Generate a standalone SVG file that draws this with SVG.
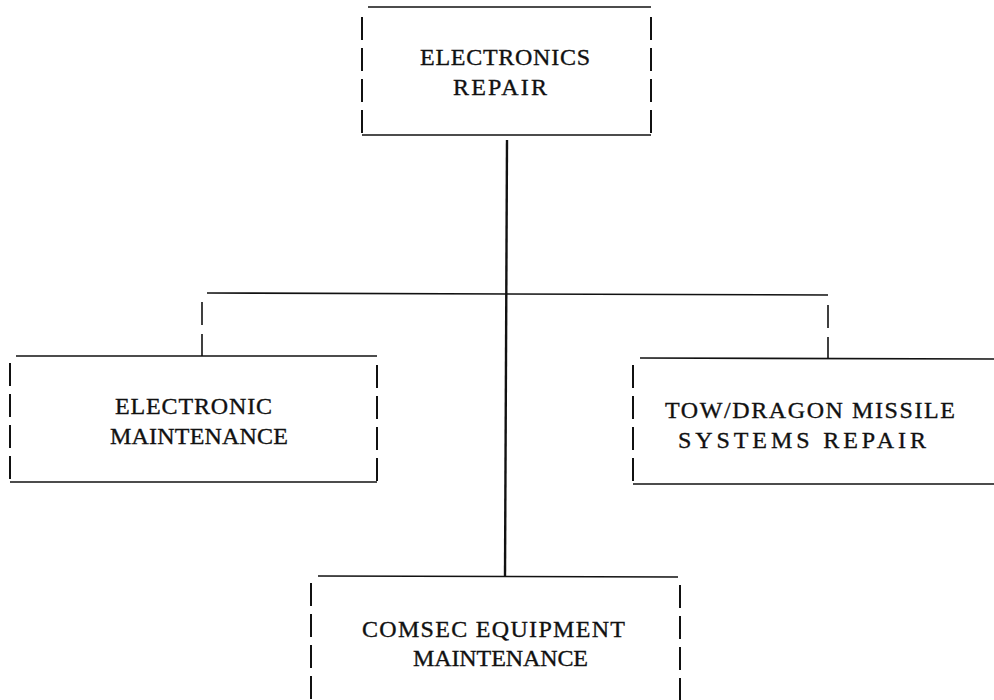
<svg xmlns="http://www.w3.org/2000/svg" width="994" height="700" viewBox="0 0 994 700">
  <style>
    .edge { stroke: #111; stroke-width: 1.6; fill: none; }
    .side { stroke: #111; stroke-width: 2; fill: none; stroke-dasharray: 23 8; }
    .link { stroke: #111; stroke-width: 1.6; fill: none; }
    .trunk { stroke: #111; stroke-width: 2.4; fill: none; }
    .drop { stroke: #111; stroke-width: 1.6; fill: none; stroke-dasharray: 23 9; }
    .lbl { font-family: "Liberation Serif", "Times New Roman", serif; font-size: 24px; fill: #111; stroke: #111; stroke-width: 0.35; }
  </style>
  <rect width="994" height="700" fill="#fff"/>

  <!-- connectors -->
  <g id="connectors">
    <line class="trunk" x1="507" y1="140" x2="505" y2="576"/>
    <line class="link" x1="207" y1="293" x2="828" y2="295"/>
    <line class="drop" x1="202" y1="302" x2="202" y2="356"/>
    <line class="drop" x1="828" y1="305" x2="828" y2="358"/>
  </g>

  <!-- top node -->
  <g id="electronics-repair">
    <line class="edge" x1="368" y1="7" x2="651" y2="7"/>
    <line class="edge" x1="362" y1="135" x2="651" y2="135"/>
    <line class="side" x1="362" y1="17" x2="362" y2="134"/>
    <line class="side" x1="651" y1="17" x2="651" y2="134"/>
    <text class="lbl" x="420" y="65" textLength="170">ELECTRONICS</text>
    <text class="lbl" x="453" y="95" textLength="94">REPAIR</text>
  </g>

  <!-- left node -->
  <g id="electronic-maintenance">
    <line class="edge" x1="16" y1="356" x2="377" y2="356"/>
    <line class="edge" x1="10" y1="482" x2="377" y2="482"/>
    <line class="side" x1="10" y1="363" x2="10" y2="481"/>
    <line class="side" x1="377" y1="365" x2="377" y2="481"/>
    <text class="lbl" x="115" y="414" textLength="157">ELECTRONIC</text>
    <text class="lbl" x="110" y="444" textLength="178">MAINTENANCE</text>
  </g>

  <!-- right node -->
  <g id="tow-dragon-missile-systems-repair">
    <line class="edge" x1="640" y1="358" x2="994" y2="359"/>
    <line class="edge" x1="633" y1="484" x2="994" y2="484"/>
    <line class="side" x1="633" y1="365" x2="633" y2="483"/>
    <text class="lbl" x="665" y="418" textLength="290">TOW/DRAGON MISSILE</text>
    <text class="lbl" x="678" y="448" textLength="248">SYSTEMS REPAIR</text>
  </g>

  <!-- bottom node -->
  <g id="comsec-equipment-maintenance">
    <line class="edge" x1="318" y1="576" x2="678" y2="577"/>
    <line class="side" x1="311" y1="583" x2="311" y2="700"/>
    <line class="side" x1="680" y1="585" x2="680" y2="700"/>
    <text class="lbl" x="362" y="637" textLength="263">COMSEC EQUIPMENT</text>
    <text class="lbl" x="413" y="666" textLength="175">MAINTENANCE</text>
  </g>
</svg>
